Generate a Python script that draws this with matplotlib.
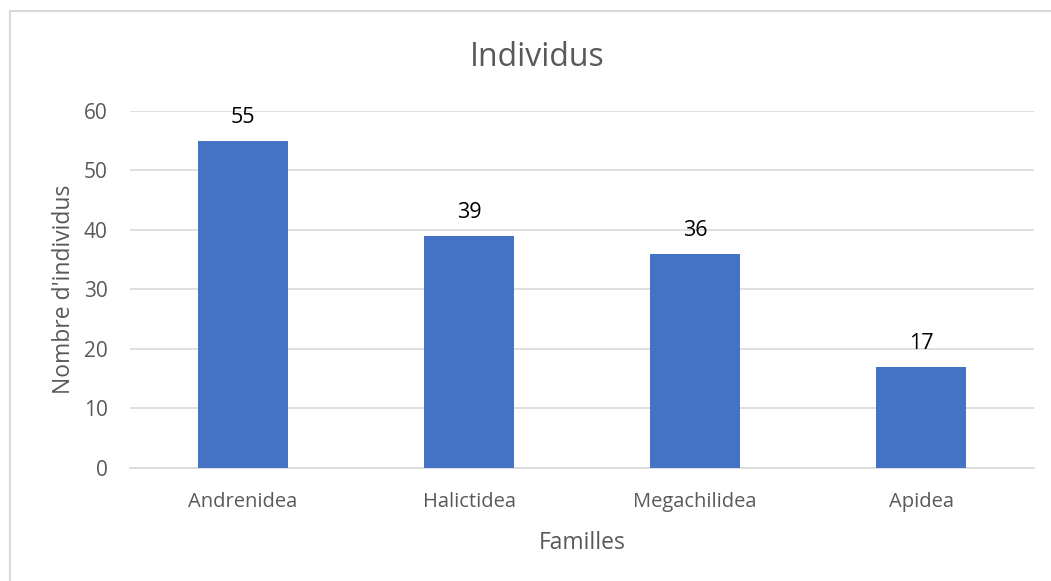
import matplotlib.pyplot as plt
from matplotlib.lines import Line2D

familles = ["Andrenidea", "Halictidea", "Megachilidea", "Apidea"]
individus = [55, 39, 36, 17]
y_ticks = [0, 10, 20, 30, 40, 50, 60]

plt.rcParams['font.family'] = ['Open Sans', 'DejaVu Sans']
gris = '#595959'

fig = plt.figure(figsize=(10.51, 5.81), dpi=100)
ax = fig.add_axes([0.1237, 0.1945, 0.8603, 0.6145])

pos = range(len(familles))
bars = ax.bar(pos, individus, width=0.4, color='#4472C4', zorder=3)

# value labels above each bar
for b, v in zip(bars, individus):
    ax.annotate(str(v), (b.get_x() + b.get_width() / 2, v),
                xytext=(0, 9), textcoords='offset points',
                ha='center', va='bottom', fontsize=15.5, color='black')

ax.set_xlim(-0.5, len(familles) - 0.5)
ax.set_ylim(0, 60)
ax.set_yticks(y_ticks)
ax.set_xticks(list(pos))
ax.set_xticklabels(familles)
ax.tick_params(axis='both', length=0, colors=gris)
ax.tick_params(axis='y', labelsize=15, pad=16)
ax.tick_params(axis='x', labelsize=14.5, pad=17)

ax.grid(axis='y', color='#D9D9D9', linewidth=1.2, zorder=0)
for side in ['top', 'right', 'left']:
    ax.spines[side].set_visible(False)
ax.spines['bottom'].set_color('#D9D9D9')
ax.spines['bottom'].set_linewidth(1.2)

fig.text(537 / 1051, 1 - 57 / 581, "Individus", fontsize=23, color=gris,
         ha='center', va='center')
ax.set_xlabel("Familles", fontsize=16.5, color=gris, labelpad=14)
ax.set_ylabel("Nombre d'individus", fontsize=16.5, color=gris, labelpad=6)

# chart frame (left and top edges)
fig.add_artist(Line2D([9.5 / 1051, 9.5 / 1051], [0, 1 - 11 / 581],
                      transform=fig.transFigure, color='#D9D9D9', linewidth=1.5))
fig.add_artist(Line2D([9.5 / 1051, 1], [1 - 11 / 581, 1 - 11 / 581],
                      transform=fig.transFigure, color='#D9D9D9', linewidth=1.5))

fig.savefig("out.png", dpi=100)
